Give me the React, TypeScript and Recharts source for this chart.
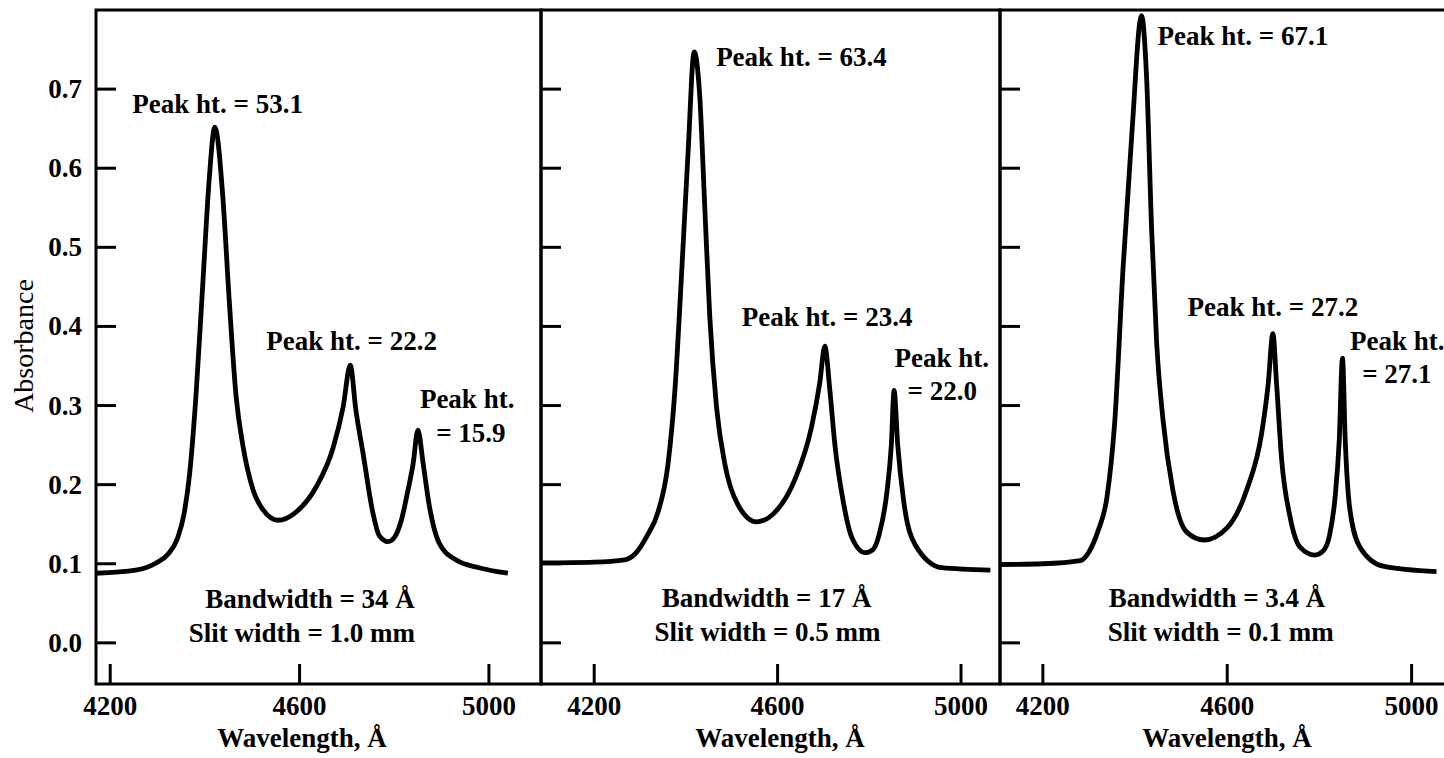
import React from 'react';
import { LineChart, Line, XAxis, YAxis, ReferenceArea, ReferenceDot } from 'recharts';

const FONT = '"Liberation Serif", "Times New Roman", Times, serif';

// ---------- axes ----------
const yTicks = [0, 0.1, 0.2, 0.3, 0.4, 0.5, 0.6, 0.7];
const xTicks = [4200, 4600, 5000];
const yDomain: [number, number] = [-0.052, 0.8];

// ---------- panel 1 : bandwidth 34 Å ----------
const p1Wavelength = [4170, 4254, 4297, 4322, 4342, 4356, 4368, 4381, 4396, 4409, 4421, 4438, 4451, 4466, 4481, 4502, 4523, 4554, 4592, 4635, 4671, 4692, 4707, 4719, 4734, 4755, 4768, 4787, 4800, 4815, 4828, 4840, 4850, 4861, 4873, 4895, 4930, 4979, 5040];
const p1Absorbance = [0.088, 0.092, 0.101, 0.112, 0.132, 0.163, 0.215, 0.311, 0.458, 0.585, 0.652, 0.563, 0.437, 0.311, 0.247, 0.193, 0.168, 0.155, 0.165, 0.197, 0.247, 0.298, 0.351, 0.294, 0.240, 0.164, 0.136, 0.128, 0.133, 0.155, 0.190, 0.227, 0.269, 0.227, 0.177, 0.126, 0.105, 0.095, 0.088];
const p1Notes = [
  { w: 4427, a: 0.670, text: 'Peak ht. = 53.1' },
  { w: 4710, a: 0.370, text: 'Peak ht. = 22.2' },
  { w: 4954, a: 0.297, text: 'Peak ht.' },
  { w: 4962, a: 0.254, text: '= 15.9' },
  { w: 4622, a: 0.044, text: 'Bandwidth = 34 Å' },
  { w: 4605, a: 0.001, text: 'Slit width = 1.0 mm' },
];

// ---------- panel 2 : bandwidth 17 Å ----------
const p2Wavelength = [4084, 4200, 4266, 4290, 4315, 4339, 4361, 4376, 4390, 4405, 4418, 4430, 4441, 4452, 4467, 4485, 4514, 4554, 4594, 4638, 4674, 4692, 4703, 4714, 4725, 4743, 4762, 4791, 4808, 4822, 4838, 4848, 4854, 4862, 4875, 4900, 4958, 5064];
const p2Absorbance = [0.101, 0.102, 0.105, 0.113, 0.135, 0.165, 0.226, 0.319, 0.460, 0.623, 0.747, 0.693, 0.553, 0.413, 0.297, 0.226, 0.174, 0.153, 0.165, 0.207, 0.273, 0.329, 0.375, 0.319, 0.250, 0.179, 0.133, 0.114, 0.118, 0.138, 0.189, 0.250, 0.319, 0.250, 0.179, 0.124, 0.095, 0.092];
const p2Notes = [
  { w: 4652, a: 0.729, text: 'Peak ht. = 63.4' },
  { w: 4708, a: 0.401, text: 'Peak ht. = 23.4' },
  { w: 4958, a: 0.349, text: 'Peak ht.' },
  { w: 4959, a: 0.307, text: '= 22.0' },
  { w: 4576, a: 0.045, text: 'Bandwidth = 17 Å' },
  { w: 4578, a: 0.002, text: 'Slit width = 0.5 mm' },
];

// ---------- panel 3 : bandwidth 3.4 Å ----------
const p3Wavelength = [4107, 4200, 4281, 4300, 4320, 4339, 4356, 4374, 4393, 4414, 4425, 4436, 4447, 4461, 4482, 4512, 4550, 4599, 4642, 4675, 4689, 4699, 4707, 4718, 4736, 4758, 4790, 4808, 4822, 4834, 4843, 4850, 4856, 4866, 4888, 4938, 5054];
const p3Absorbance = [0.099, 0.100, 0.104, 0.115, 0.142, 0.184, 0.280, 0.474, 0.643, 0.793, 0.715, 0.522, 0.378, 0.280, 0.193, 0.140, 0.130, 0.145, 0.193, 0.266, 0.328, 0.391, 0.328, 0.232, 0.160, 0.121, 0.111, 0.116, 0.136, 0.184, 0.256, 0.360, 0.256, 0.169, 0.121, 0.097, 0.090];
const p3Notes = [
  { w: 4634, a: 0.756, text: 'Peak ht. = 67.1' },
  { w: 4699, a: 0.413, text: 'Peak ht. = 27.2' },
  { w: 4969, a: 0.370, text: 'Peak ht.' },
  { w: 4968, a: 0.329, text: '= 27.1' },
  { w: 4578, a: 0.045, text: 'Bandwidth = 3.4 Å' },
  { w: 4586, a: 0.002, text: 'Slit width = 0.1 mm' },
];

type Note = { w: number; a: number; text: string };

const toRows = (w: number[], a: number[]) => w.map((v, i) => ({ w: v, a: a[i] }));

const labelStyle = { fontFamily: FONT, fontWeight: 700, fontSize: 27, fill: '#000' } as const;

function XTick(props: any) {
  const { x, y, payload } = props;
  return (
    <g>
      <line x1={x} y1={y} x2={x} y2={y - 20} stroke="#000" strokeWidth={3} />
      <text x={x} y={y + 31} textAnchor="middle" {...labelStyle}>{payload.value}</text>
    </g>
  );
}

function makeYTick(showLabel: boolean) {
  return (props: any) => {
    const { x, y, payload } = props;
    return (
      <g>
        <line x1={x} y1={y} x2={x + 20} y2={y} stroke="#000" strokeWidth={3} />
        {showLabel ? (
          <text x={x - 14} y={y + 9} textAnchor="end" {...labelStyle}>{Number(payload.value).toFixed(1)}</text>
        ) : null}
      </g>
    );
  };
}

type PanelProps = {
  left: number;
  width: number;
  axisWidth: number;
  marginRight: number;
  domain: [number, number];
  rows: { w: number; a: number }[];
  notes: Note[];
  showYLabels: boolean;
};

function Panel({ left, width, axisWidth, marginRight, domain, rows, notes, showYLabels }: PanelProps) {
  return (
    <div style={{ position: 'absolute', left, top: 0 }}>
      <LineChart
        width={width}
        height={758}
        data={rows}
        margin={{ top: 10, right: marginRight, bottom: 0, left: 0 }}
      >
        <XAxis
          dataKey="w"
          type="number"
          domain={domain}
          ticks={xTicks}
          interval={0}
          allowDataOverflow
          height={74}
          tickSize={0}
          tickMargin={0}
          axisLine={false}
          tickLine={false}
          tick={XTick}
        />
        <YAxis
          type="number"
          domain={yDomain}
          ticks={yTicks}
          interval={0}
          allowDataOverflow
          width={axisWidth}
          tickSize={0}
          tickMargin={0}
          axisLine={false}
          tickLine={false}
          tick={makeYTick(showYLabels)}
        />
        <ReferenceArea
          x1={domain[0]}
          x2={domain[1]}
          y1={yDomain[0]}
          y2={yDomain[1]}
          fill="none"
          fillOpacity={0}
          stroke="#000"
          strokeWidth={3}
          ifOverflow="visible"
        />
        <Line
          type="monotone"
          dataKey="a"
          stroke="#000"
          strokeWidth={4.8}
          dot={false}
          activeDot={false}
          isAnimationActive={false}
        />
        {notes.map((n, i) => (
          <ReferenceDot
            key={i}
            x={n.w}
            y={n.a}
            r={1}
            ifOverflow="visible"
            shape={(p: any) => (
              <text x={p.cx} y={p.cy} textAnchor="middle" {...labelStyle}>{n.text}</text>
            )}
          />
        ))}
      </LineChart>
    </div>
  );
}

export default function App() {
  return (
    <div
      style={{
        position: 'absolute',
        left: 0,
        top: 0,
        width: 1444,
        height: 758,
        overflow: 'hidden',
        background: '#fff',
      }}
    >
      <Panel left={0} width={551} axisWidth={96} marginRight={10} domain={[4170, 5110]} rows={toRows(p1Wavelength, p1Absorbance)} notes={p1Notes} showYLabels />
      <Panel left={531} width={479} axisWidth={10} marginRight={10} domain={[4084, 5085]} rows={toRows(p2Wavelength, p2Absorbance)} notes={p2Notes} showYLabels={false} />
      <Panel left={990} width={480} axisWidth={10} marginRight={10} domain={[4107, 5105]} rows={toRows(p3Wavelength, p3Absorbance)} notes={p3Notes} showYLabels={false} />
      <svg width={1444} height={758} style={{ position: 'absolute', left: 0, top: 0, pointerEvents: 'none' }}>
        <text x={33} y={346} transform="rotate(-90 33 346)" textAnchor="middle" fontFamily={FONT} fontSize={28} fill="#000">Absorbance</text>
        <text x={302} y={747} textAnchor="middle" {...labelStyle}>Wavelength, Å</text>
        <text x={780} y={747} textAnchor="middle" {...labelStyle}>Wavelength, Å</text>
        <text x={1227} y={747} textAnchor="middle" {...labelStyle}>Wavelength, Å</text>
      </svg>
    </div>
  );
}
